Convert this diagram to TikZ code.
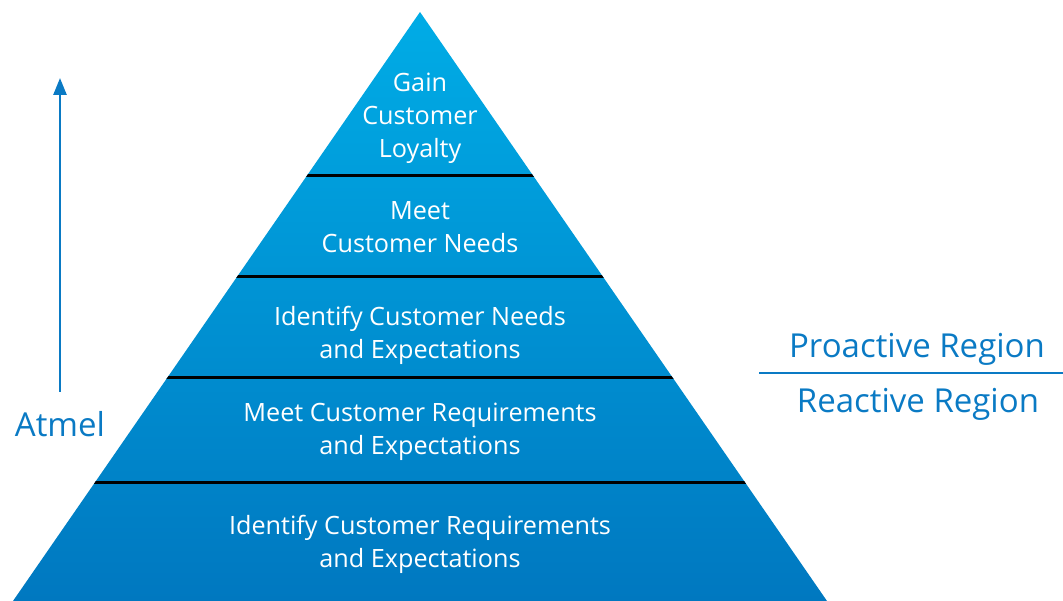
\documentclass[tikz,border=0pt]{standalone}
\usepackage{fontspec}
\setmainfont{Open Sans}
\usetikzlibrary{arrows.meta}
\definecolor{pyrbase}{RGB}{0,120,192}
\definecolor{pyrtop}{RGB}{0,172,230}
\definecolor{labelblue}{RGB}{10,122,196}
\tikzset{
  tier/.style={text=white, align=center, font=\fontsize{25.2}{33}\selectfont},
  divider/.style={line width=3pt, black},
  sidelabel/.style={text=labelblue, font=\fontsize{33}{38}\selectfont, anchor=center},
}
\begin{document}
\begin{tikzpicture}[x=1pt, y=-1pt]
\useasboundingbox (0,0) rectangle (1063,601);

% pyramid body
\coordinate (apex) at (420,12);
\coordinate (bl) at (13,601);
\coordinate (br) at (827,601);
\shade[top color=pyrtop, middle color=pyrbase, bottom color=pyrbase, shading angle=0]
  (apex) -- (br) -- (bl) -- cycle;

% tier dividers, clipped to the pyramid
\begin{scope}
  \clip (apex) -- (br) -- (bl) -- cycle;
  \draw[divider] (0,176) -- (1063,176);
  \draw[divider] (0,277) -- (1063,277);
  \draw[divider] (0,378) -- (1063,378);
  \draw[divider] (0,482) -- (1063,482);
\end{scope}

% tier labels
\node[tier] (t1) at (420,118) {Gain\\Customer\\Loyalty};
\node[tier] (t2) at (420,227.5) {Meet\\Customer Needs};
\node[tier] (t3) at (420,335.5) {Identify Customer Needs\\and Expectations};
\node[tier] (t4) at (420,432) {Meet Customer Requirements\\and Expectations};
\node[tier] (t5) at (420,544.5) {Identify Customer Requirements\\and Expectations};

% vertical arrow with company label
\node[text=labelblue, font=\fontsize{33}{38}\selectfont] (atmel) at (60,424) {Atmel};
\coordinate (arrowtop) at (60,78);
\draw[labelblue, line width=2.6pt, -{Triangle[length=17pt, width=13pt]}]
  (60,392) -- (arrowtop);

% region labels and separator
\node[sidelabel] (pro) at (917,349) {Proactive Region};
\node[sidelabel] (re) at (918,404) {Reactive Region};
\coordinate (sepL) at (759,373);
\coordinate (sepR) at (1063,373);
\draw[labelblue, line width=2.6pt] (sepL) -- (sepR);
\end{tikzpicture}
\end{document}
